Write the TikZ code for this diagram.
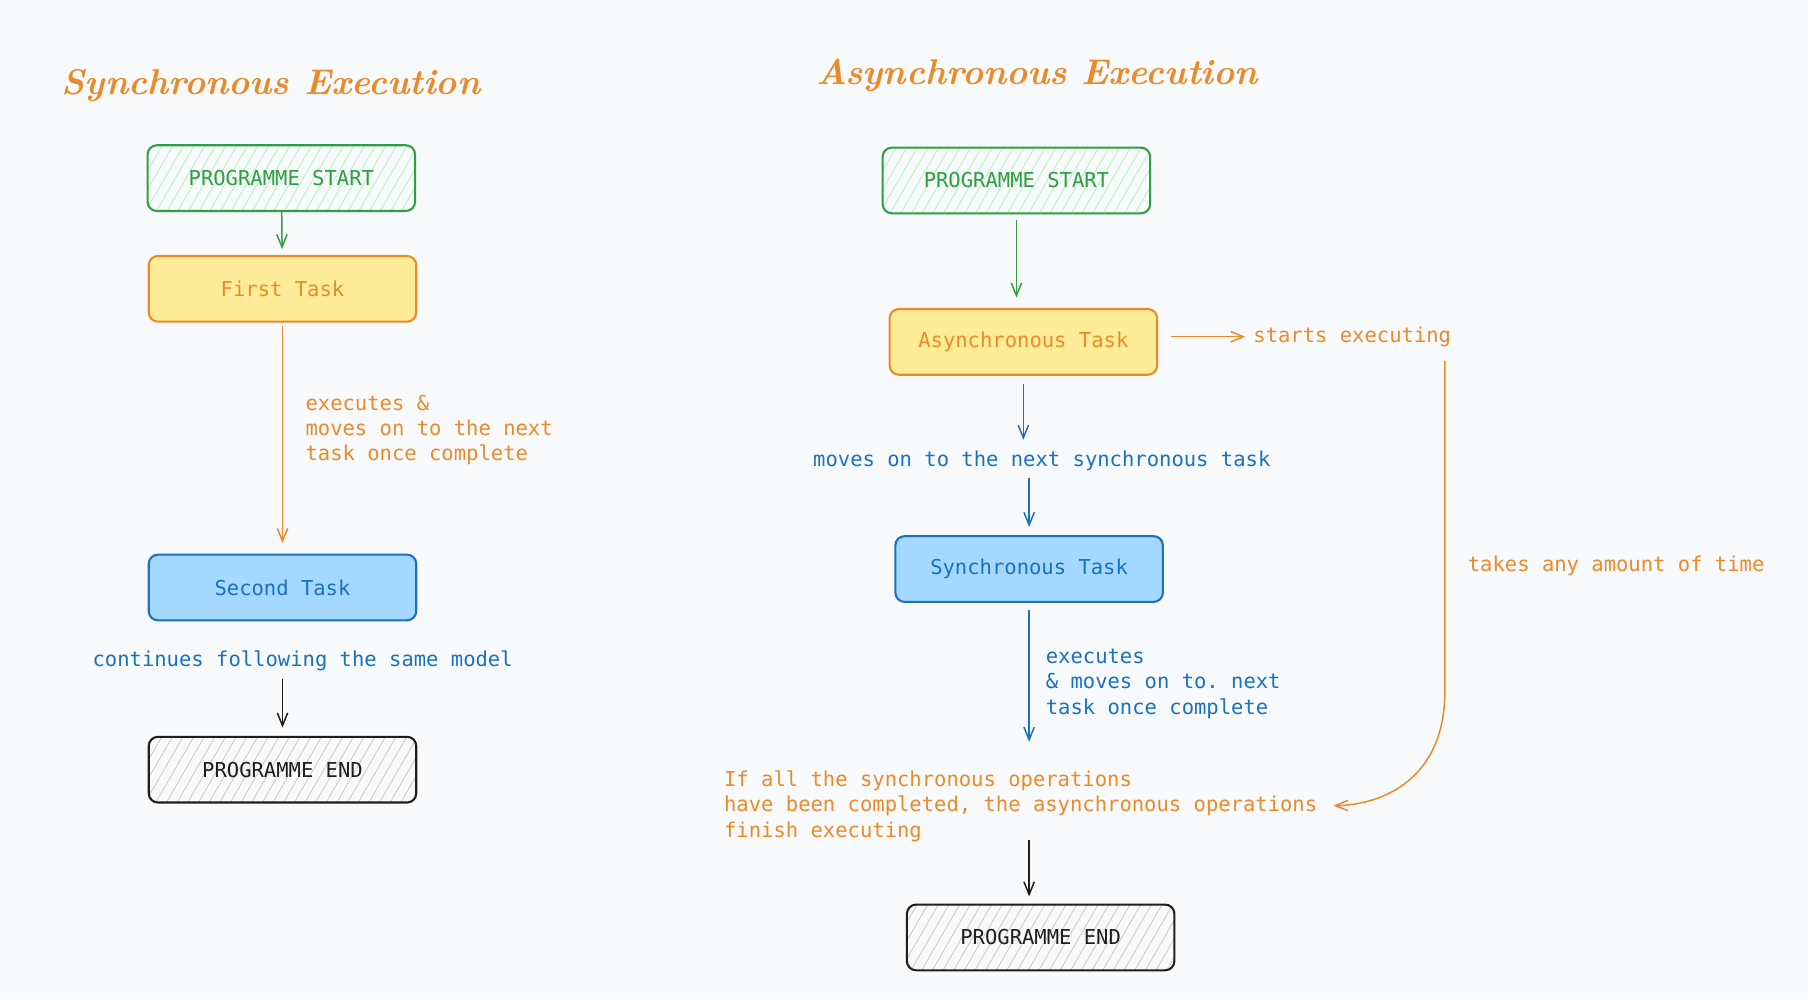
\documentclass[tikz,border=0pt]{standalone}
\usepackage{fontspec}
\setmonofont{DejaVu Sans Mono}
\usepackage{tikz}
\usepackage{xcolor}
\usetikzlibrary{arrows.meta,patterns.meta}

\definecolor{bgcol}{HTML}{F8F9FA}
\definecolor{grnline}{HTML}{2F9E44}
\definecolor{grnhatch}{HTML}{B2F2BB}
\definecolor{orgline}{HTML}{E98B2A}
\definecolor{orgfill}{HTML}{FFEC99}
\definecolor{bluline}{HTML}{1971C2}
\definecolor{blufill}{HTML}{A5D8FF}
\definecolor{blkline}{HTML}{1E1E1E}
\definecolor{gryhatch}{HTML}{C8C8C8}

\begin{document}
\begin{tikzpicture}[x=1pt, y=-1pt,
    every node/.style={font=\ttfamily\fontsize{17.8}{22}\selectfont, inner sep=2pt, outer sep=0pt},
    title/.style={font=\rmfamily\bfseries\itshape\fontsize{31}{36}\selectfont, text=orgline, anchor=base},
    box/.style={rectangle, rounded corners=8pt, line width=1.8pt, minimum width=232pt, minimum height=57pt},
    greenbox/.style={box, draw=grnline, text=grnline, pattern={Lines[angle=60,distance=8pt,line width=0.7pt]}, pattern color=grnhatch},
    yellowbox/.style={box, draw=orgline, text=orgline, fill=orgfill},
    bluebox/.style={box, draw=bluline, text=bluline, fill=blufill},
    endbox/.style={box, draw=blkline, text=blkline, pattern={Lines[angle=60,distance=8pt,line width=0.7pt]}, pattern color=gryhatch},
    otext/.style={text=orgline, align=left},
    btext/.style={text=bluline, align=left},
    conn/.style={line width=1.3pt, -{Straight Barb[length=11pt,width=9pt]}},
    garrow/.style={conn, draw=grnline},
    oarrow/.style={conn, draw=orgline},
    barrow/.style={conn, draw=bluline},
    karrow/.style={conn, draw=blkline}]
    % Background
    \fill[bgcol] (0,0) rectangle (1568,866);
    \useasboundingbox (0,0) rectangle (1568,866);

    % Synchronous side
    \node[title] (ltitle) at (235,82) {Synchronous Execution};
    \node[greenbox] (lstart) at (244,154.5) {PROGRAMME START};
    \node[yellowbox] (lfirst) at (245,250.5) {First Task};
    \node[otext, anchor=west] (lexec) at (263,373) {executes \&\\moves on to the next\\task once complete};
    \node[bluebox] (lsecond) at (245,509.5) {Second Task};
    \node[btext] (lcont) at (262.5,573) {continues following the same model};
    \node[endbox] (lend) at (245,667.5) {PROGRAMME END};

    \draw[garrow, shorten >=6pt] (lstart) -- (lfirst);
    \draw[oarrow, shorten <=4pt, shorten >=10pt] (lfirst) -- (lsecond);
    \draw[karrow, shorten <=5pt, shorten >=8pt] (lend.north |- lcont.south) -- (lend.north);

    % Asynchronous side
    \node[title] (rtitle) at (899.5,73) {Asynchronous Execution};
    \node[greenbox] (rstart) at (881.5,156.5) {PROGRAMME START};
    \node[yellowbox] (rasync) at (887.5,296.5) {Asynchronous Task};
    \node[otext, anchor=west] (rstarts) at (1085,292) {starts executing};
    \node[btext] (rmoves) at (903.5,400) {moves on to the next synchronous task};
    \node[bluebox] (rsync) at (892.5,493.5) {Synchronous Task};
    \node[btext, anchor=west] (rexec) at (905,593) {executes\\\& moves on to. next\\task once complete};
    \node[otext, anchor=west] (rtakes) at (1271,491) {takes any amount of time};
    \node[otext, anchor=west] (rall) at (626,699) {If all the synchronous operations\\have been completed, the asynchronous operations\\finish executing};
    \node[endbox] (rend) at (902.5,813) {PROGRAMME END};

    \draw[garrow, shorten <=6pt, shorten >=10pt] (rstart.south) -- (rstart.south |- rasync.north);
    \draw[oarrow, shorten <=12pt, shorten >=5pt] (rasync.east |- rstarts.west) -- (rstarts.west);
    \draw[barrow, shorten <=8pt, shorten >=8pt] (rasync.south) -- (rasync.south |- rmoves.north);
    \draw[barrow, shorten <=4pt, shorten >=8pt] (rsync.north |- rmoves.south) -- (rsync.north);
    \draw[barrow, shorten <=7pt, shorten >=23pt] (rsync.south) -- (rsync.south |- rall.north);
    \draw[karrow, shorten <=-3pt, shorten >=7pt] (rsync.south |- rall.south) -- (rsync.south |- rend.north);

    \coordinate (tstart) at (1253,313);
    \coordinate (tbend) at (1253,600);
    \draw[oarrow, shorten >=12pt] (tstart) -- (tbend) .. controls (1253,675) and (1200,698) .. (rall.east);
\end{tikzpicture}
\end{document}
